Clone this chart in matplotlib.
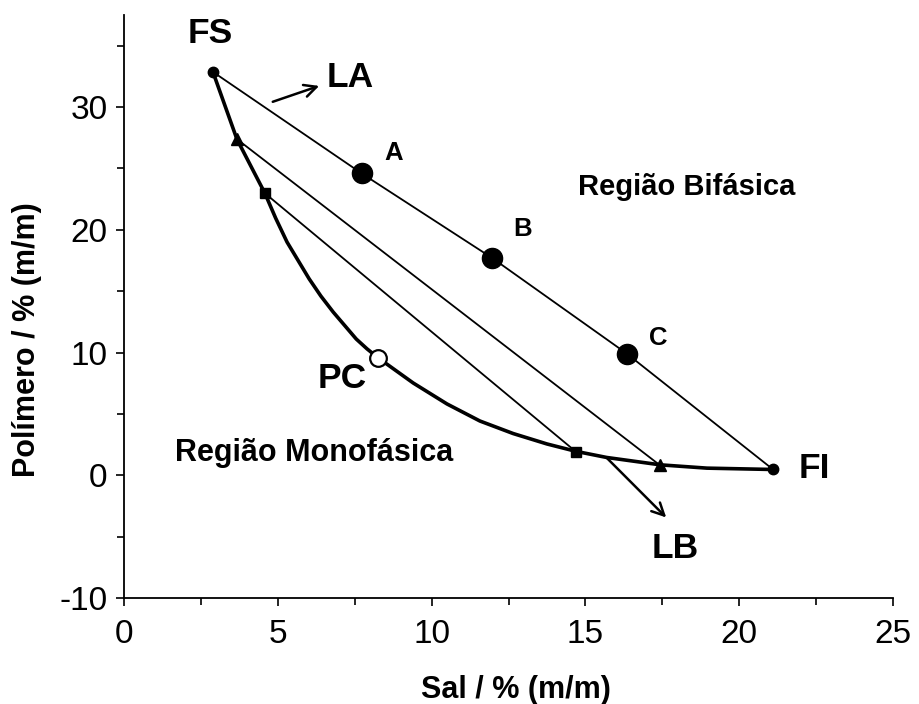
import matplotlib
matplotlib.use("Agg")
import matplotlib.pyplot as plt
from matplotlib.ticker import MultipleLocator

plt.rcParams['font.family'] = ['Liberation Sans', 'DejaVu Sans']
plt.rcParams['axes.unicode_minus'] = False

# binodal curve
curve_x = [2.89, 3.67, 4.58, 4.93, 5.30, 6.02, 6.40, 6.80, 7.55, 7.90, 8.26,
           9.40, 10.50, 11.57, 12.65, 13.75, 14.69, 15.69, 17.43, 18.95, 21.10]
curve_y = [32.87, 27.39, 22.98, 20.95, 19.00, 16.00, 14.60, 13.30, 11.10, 10.30, 9.57,
           7.52, 5.81, 4.42, 3.40, 2.55, 1.95, 1.45, 0.85, 0.58, 0.47]

# tie lines
tie_top_x = [2.89, 7.73, 11.97, 16.34, 21.10]
tie_top_y = [32.87, 24.59, 17.70, 9.92, 0.47]
tie_tri_x = [3.67, 17.43]
tie_tri_y = [27.39, 0.80]
tie_sq_x = [4.58, 14.69]
tie_sq_y = [22.98, 1.92]

# points
ends_x = [2.89, 21.10]
ends_y = [32.87, 0.47]
tri_x = [3.67, 17.43]
tri_y = [27.39, 0.80]
sq_x = [4.58, 14.69]
sq_y = [22.98, 1.92]
mix_x = [7.73, 11.97, 16.34]
mix_y = [24.59, 17.70, 9.92]
mix_labels = ['A', 'B', 'C']
pc_x, pc_y = 8.26, 9.57

fig = plt.figure(figsize=(9.2, 7.04), dpi=100)
ax = fig.add_axes([0.1348, 0.1506, 0.8359, 0.828])

ax.plot(curve_x, curve_y, color='black', lw=2.6, zorder=3,
        solid_joinstyle='round', solid_capstyle='round')
ax.plot(tie_top_x, tie_top_y, color='black', lw=1.3, zorder=2)
ax.plot(tie_tri_x, tie_tri_y, color='black', lw=1.3, zorder=2)
ax.plot(tie_sq_x, tie_sq_y, color='black', lw=1.3, zorder=2)

ax.plot(ends_x, ends_y, 'o', color='black', ms=7.5, zorder=4)
ax.plot(tri_x, tri_y, '^', color='black', ms=8.5, zorder=4)
ax.plot(sq_x, sq_y, 's', color='black', ms=7.5, zorder=4)
ax.plot(mix_x, mix_y, 'o', color='black', ms=14.5, zorder=4)
ax.plot([pc_x], [pc_y], 'o', mfc='white', mec='black', mew=1.6, ms=12, zorder=5)

bold = dict(fontweight='bold', color='black')
big = 25.5
ax.text(2.80, 36.0, 'FS', fontsize=big, ha='center', va='center', **bold)
ax.text(6.6, 32.4, 'LA', fontsize=big, ha='left', va='center', **bold)
ax.text(22.45, 0.55, 'FI', fontsize=big, ha='center', va='center', **bold)
ax.text(17.91, -5.97, 'LB', fontsize=big, ha='center', va='center', **bold)
ax.text(7.09, 7.85, 'PC', fontsize=big, ha='center', va='center', **bold)
for lx, ly, lab in zip([8.78, 12.97, 17.36], [26.3, 20.1, 11.2], mix_labels):
    ax.text(lx, ly, lab, fontsize=18.5, ha='center', va='center', **bold)
ax.text(18.3, 23.5, 'Região Bifásica', fontsize=21, ha='center', va='center', **bold)
ax.text(6.18, 1.8, 'Região Monofásica', fontsize=22, ha='center', va='center', **bold)

ax.annotate('', xy=(6.43, 31.8), xytext=(4.75, 30.36),
            arrowprops=dict(arrowstyle='->', color='black', lw=1.8, mutation_scale=22))
ax.annotate('', xy=(17.69, -3.6), xytext=(15.64, 1.55),
            arrowprops=dict(arrowstyle='->', color='black', lw=1.8, mutation_scale=22))

ax.set_xlim(0, 25)
ax.set_ylim(-10, 37.5)
ax.xaxis.set_major_locator(MultipleLocator(5))
ax.xaxis.set_minor_locator(MultipleLocator(2.5))
ax.yaxis.set_major_locator(MultipleLocator(10))
ax.yaxis.set_minor_locator(MultipleLocator(5))
ax.spines['top'].set_visible(False)
ax.spines['right'].set_visible(False)
for s in ['left', 'bottom']:
    ax.spines[s].set_linewidth(1.3)
ax.tick_params(which='major', direction='out', length=6, width=1.2, labelsize=24)
ax.tick_params(axis='x', which='major', pad=9)
ax.tick_params(axis='y', which='major', pad=6)
ax.tick_params(which='minor', direction='out', length=5, width=1.2)

ax.set_xlabel('Sal / % (m/m)', fontsize=22, fontweight='bold')
ax.set_ylabel('Polímero / % (m/m)', fontsize=22, fontweight='bold')
ax.xaxis.set_label_coords(0.51, -0.132)
ax.yaxis.set_label_coords(-0.107, 0.444)

fig.savefig('out.png', dpi=100)
